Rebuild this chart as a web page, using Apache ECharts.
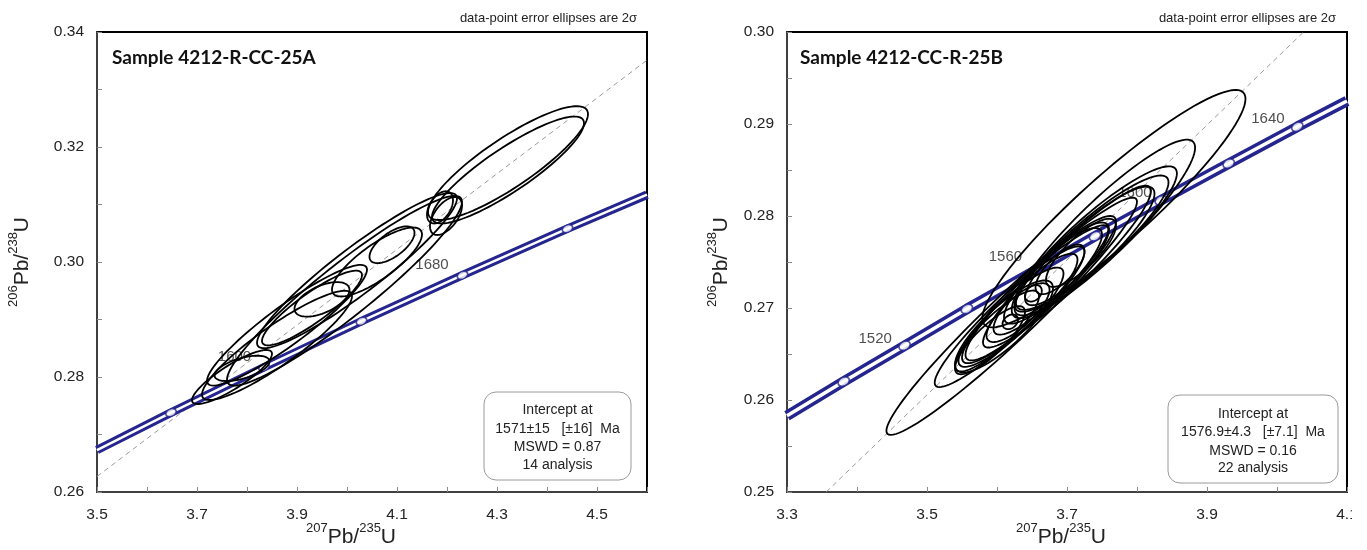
<!DOCTYPE html>
<html><head><meta charset="utf-8">
<script src="https://cdn.jsdelivr.net/npm/echarts@6/dist/echarts.min.js"></script>
<style>html,body{margin:0;padding:0;background:#fff}#c{width:1367px;height:550px}</style>
</head><body><div id="c"></div>
<script>
// ---------- DATA ----------
// ellipses: [centre 207Pb/235U, centre 206Pb/238U, x half-extent, y half-extent, rho]
const ellipsesA = [
  [4.322, 0.3172, 0.160, 0.0099, 0.86],
  [4.322, 0.3160, 0.152, 0.0093, 0.875],
  [4.186, 0.3095, 0.026, 0.0028, 0.45],
  [4.198, 0.3080, 0.032, 0.0033, 0.55],
  [3.995, 0.2950, 0.235, 0.0165, 0.937],
  [4.020, 0.2985, 0.200, 0.0135, 0.93],
  [4.060, 0.3000, 0.090, 0.0060, 0.80],
  [4.090, 0.3030, 0.045, 0.0032, 0.65],
  [3.950, 0.2935, 0.055, 0.0030, 0.55],
  [3.930, 0.2920, 0.100, 0.0065, 0.88],
  [3.880, 0.2890, 0.160, 0.0105, 0.92],
  [3.790, 0.2815, 0.055, 0.0022, 0.55],
  [3.770, 0.2800, 0.080, 0.0047, 0.86],
  [3.860, 0.2855, 0.150, 0.0095, 0.90]
];
const ellipsesB = [
  [3.621, 0.2691, 0.179, 0.0129, 0.965],
  [3.635, 0.2702, 0.124, 0.0088, 0.945],
  [3.767, 0.2808, 0.188, 0.0129, 0.925],
  [3.752, 0.2786, 0.131, 0.0097, 0.910],
  [3.742, 0.2776, 0.115, 0.0078, 0.900],
  [3.735, 0.2770, 0.110, 0.0074, 0.900],
  [3.725, 0.2762, 0.100, 0.0070, 0.890],
  [3.700, 0.2745, 0.120, 0.0088, 0.935],
  [3.660, 0.2720, 0.110, 0.0080, 0.925],
  [3.640, 0.2705, 0.085, 0.0062, 0.900],
  [3.620, 0.2690, 0.075, 0.0054, 0.880],
  [3.600, 0.2675, 0.060, 0.0044, 0.860],
  [3.610, 0.2680, 0.070, 0.0050, 0.830],
  [3.655, 0.2715, 0.060, 0.0044, 0.850],
  [3.680, 0.2735, 0.070, 0.0052, 0.860],
  [3.700, 0.2748, 0.060, 0.0045, 0.830],
  [3.720, 0.2760, 0.050, 0.0037, 0.800],
  [3.630, 0.2695, 0.045, 0.0032, 0.780],
  [3.619, 0.2685, 0.011, 0.0008, 0.300],
  [3.652, 0.2716, 0.012, 0.0009, 0.300],
  [3.690, 0.2742, 0.035, 0.0027, 0.730],
  [3.590, 0.2665, 0.050, 0.0037, 0.830]
];
// concordia curve points (plot edges + age marks)
const concordiaA = [[3.5,0.2673],[3.648,0.2738],[3.834,0.2817],[4.029,0.2897],[4.231,0.2977],[4.441,0.3058],[4.6,0.3117]];
const concordiaB = [[3.3,0.2583],[3.381,0.2620],[3.468,0.2659],[3.557,0.2699],[3.648,0.2738],[3.740,0.2778],[3.834,0.2817],[3.931,0.2857],[4.029,0.2897],[4.1,0.2925]];
const ageMarksA = [[3.648,0.2738],[3.834,0.2817],[4.029,0.2897],[4.231,0.2977],[4.441,0.3058]];
const ageMarksB = [[3.381,0.2620],[3.468,0.2659],[3.557,0.2699],[3.648,0.2738],[3.740,0.2778],[3.834,0.2817],[3.931,0.2857],[4.029,0.2897]];
const ageLabelsA = [['1600',3.775,0.2835],['1680',4.170,0.2995]];
const ageLabelsB = [['1520',3.426,0.2666],['1560',3.612,0.2756],['1600',3.797,0.2825],['1640',3.987,0.2906]];
const discordiaA = [[3.5,0.2627],[4.6,0.3351]];
const discordiaB = [[3.356,0.25],[4.038,0.30]];
const titleA = 'Sample 4212-R-CC-25A';
const titleB = 'Sample 4212-CC-R-25B';
const interceptA = ['Intercept at','1571±15   [±16]  Ma','MSWD = 0.87','14 analysis'];
const interceptB = ['Intercept at','1576.9±4.3   [±7.1]  Ma','MSWD = 0.16','22 analysis'];
const note = 'data-point error ellipses are 2σ';
const xRangeA = [3.5, 4.6], yRangeA = [0.26, 0.34];
const xRangeB = [3.3, 4.1], yRangeB = [0.25, 0.30];

// ---------- CHART ----------
const BLUE = '#25258f';
const FONT = 'Liberation Sans, Arial, sans-serif';
const chart = echarts.init(document.getElementById('c'), null, {renderer:'canvas'});

function ellipseSeries(data, idx){
  return {
    type:'custom', xAxisIndex:idx, yAxisIndex:idx, z:5, clip:true,
    data: data, encode:{x:0,y:1},
    renderItem: function(params, api){
      const cx=api.value(0), cy=api.value(1), sx=api.value(2), sy=api.value(3), r=api.value(4);
      const q = Math.sqrt(1-r*r), pts=[];
      for(let i=0;i<=96;i++){
        const t = 2*Math.PI*i/96;
        pts.push(api.coord([cx+sx*Math.cos(t), cy+sy*(r*Math.cos(t)+q*Math.sin(t))]));
      }
      return {type:'polygon', shape:{points:pts}, style:{fill:'none', stroke:'#000', lineWidth:1.8}};
    }
  };
}
function bandSeries(data, idx, w, inner){
  return [
    {type:'line', xAxisIndex:idx, yAxisIndex:idx, data:data, showSymbol:false, z:2, silent:true,
     lineStyle:{color:BLUE, width:w}},
    {type:'line', xAxisIndex:idx, yAxisIndex:idx, data:data, showSymbol:false, z:2, silent:true,
     lineStyle:{color:'#fff', width:inner}}
  ];
}
function markSeries(data, idx, rot, size){
  return {type:'scatter', xAxisIndex:idx, yAxisIndex:idx, data:data, z:3, symbol:'circle',
    symbolSize:size, symbolRotate:rot, silent:true,
    itemStyle:{color:'#fff', borderColor:BLUE, borderWidth:1.4}};
}
function dashSeries(data, idx){
  return {type:'line', xAxisIndex:idx, yAxisIndex:idx, data:data, showSymbol:false, z:1, silent:true,
    lineStyle:{color:'#9a9a9a', width:1, type:[5,4]}};
}
function labelSeries(data, idx){
  return {type:'scatter', xAxisIndex:idx, yAxisIndex:idx, z:4, symbolSize:0, silent:true,
    data:data.map(d=>({value:[d[1],d[2]], name:d[0]})),
    label:{show:true, position:'inside', formatter:p=>p.name, fontSize:15, color:'#222', fontFamily:FONT}};
}
function xAxis(idx, range){
  return {gridIndex:idx, type:'value', min:range[0], max:range[1], interval:0.1,
    axisLine:{show:true, onZero:false, lineStyle:{color:'#555', width:1.5}},
    axisTick:{show:true, inside:true, length:5, lineStyle:{color:'#888', width:1}},
    splitLine:{show:false},
    axisLabel:{margin:15, fontSize:15.5, color:'#222', fontFamily:FONT, showMaxLabel:true, showMinLabel:true,
      formatter:v=> (Math.round(v*10)%2===1 ? v.toFixed(1) : '')}};
}
function yAxis(idx, range, step, fmt){
  return {gridIndex:idx, type:'value', min:range[0], max:range[1], interval:step,
    axisLine:{show:true, onZero:false, lineStyle:{color:'#555', width:1.5}},
    axisTick:{show:true, inside:true, length:5, lineStyle:{color:'#888', width:1}},
    splitLine:{show:false},
    axisLabel:{margin:13, fontSize:15.5, color:'#222', fontFamily:FONT, formatter:fmt}};
}
const rich = {
  m:{fontSize:21, lineHeight:26, verticalAlign:'bottom', fontFamily:FONT, fill:'#222'},
  s:{fontSize:13, lineHeight:15, verticalAlign:'top', fontFamily:FONT, fill:'#222'}
};
function axTitle(x, y, top, bot, rot){
  return {type:'text', x:x, y:y, rotation:rot, z:10,
    style:{text:'{s|'+top+'}{m|Pb/}{s|'+bot+'}{m|U}', rich:rich, align:'center', verticalAlign:'middle', fill:'#222'}};
}
function box(x, y, w, h, lines, cxs, ys){
  const g = [{type:'rect', shape:{x:x, y:y, width:w, height:h, r:12}, z:8,
    style:{fill:'#fff', stroke:'#9a9a9a', lineWidth:1}}];
  lines.forEach((t,i)=>g.push({type:'text', x:cxs, y:ys[i], z:9,
    style:{text:t, fontSize:14, fontFamily:FONT, fill:'#222', align:'center', verticalAlign:'middle'}}));
  return g;
}

const option = {
  animation:false,
  backgroundColor:'#fff',
  grid:[
    {left:97, top:32, width:550, height:460, show:true, borderColor:'#000', borderWidth:2, backgroundColor:'transparent'},
    {left:787, top:32, width:560, height:460, show:true, borderColor:'#000', borderWidth:2, backgroundColor:'transparent'}
  ],
  xAxis:[xAxis(0, xRangeA), xAxis(1, xRangeB)],
  yAxis:[
    yAxis(0, yRangeA, 0.01, v=> (Math.round(v*100)%2===0 ? v.toFixed(2) : '')),
    yAxis(1, yRangeB, 0.005, v=> (Math.round(v*1000)%10===0 ? v.toFixed(2) : ''))
  ],
  series:[
    dashSeries(discordiaA,0), dashSeries(discordiaB,1),
    ...bandSeries(concordiaA,0,8.5,2.5), ...bandSeries(concordiaB,1,10.5,3.5),
    markSeries(ageMarksA,0,25,[11,7]), markSeries(ageMarksB,1,29,[12,8]),
    labelSeries(ageLabelsA,0), labelSeries(ageLabelsB,1),
    ellipseSeries(ellipsesA,0), ellipseSeries(ellipsesB,1)
  ],
  graphic:[
    {type:'text', x:112, y:58, z:10, style:{text:titleA, fontSize:19, fontWeight:'bold', fontFamily:'Lato, Open Sans, sans-serif', fill:'#111', verticalAlign:'middle'}},
    {type:'text', x:800, y:58, z:10, style:{text:titleB, fontSize:19, fontWeight:'bold', fontFamily:'Lato, Open Sans, sans-serif', fill:'#111', verticalAlign:'middle'}},
    {type:'text', x:637, y:18, z:10, style:{text:note, fontSize:13, fontFamily:FONT, fill:'#222', align:'right', verticalAlign:'middle'}},
    {type:'text', x:1336, y:18, z:10, style:{text:note, fontSize:13, fontFamily:FONT, fill:'#222', align:'right', verticalAlign:'middle'}},
    axTitle(20, 262, '206', '238', Math.PI/2),
    axTitle(719, 262, '206', '238', Math.PI/2),
    axTitle(351, 535, '207', '235', 0),
    axTitle(1061, 535, '207', '235', 0),
    ...box(484, 392, 147, 88, interceptA, 557.5, [410,429,447,465]),
    ...box(1168, 395, 170, 88, interceptB, 1253, [414,432,451,468]),
    {type:'rect', shape:{x:1352, y:500, width:15, height:50}, z:20, style:{fill:'#fff'}}
  ]
};
chart.setOption(option);
</script></body></html>
